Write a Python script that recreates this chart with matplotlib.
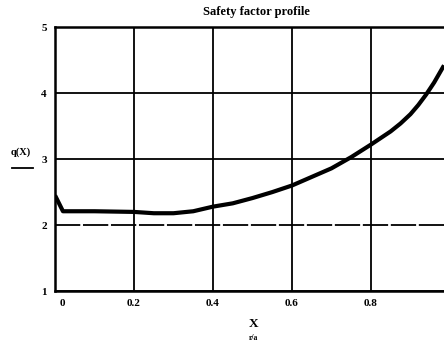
import matplotlib
matplotlib.use("Agg")
import matplotlib.pyplot as plt
from matplotlib.lines import Line2D
from matplotlib.transforms import ScaledTranslation

# safety factor profile
r_a = [0.0, 0.02, 0.1, 0.2, 0.25, 0.3, 0.35, 0.4, 0.45, 0.5, 0.55,
       0.6, 0.65, 0.7, 0.75, 0.8, 0.85, 0.875, 0.9, 0.92, 0.94, 0.96, 0.985]
q_vals = [2.45, 2.21, 2.21, 2.2, 2.18, 2.18, 2.21, 2.28, 2.33, 2.41, 2.5,
          2.6, 2.73, 2.86, 3.03, 3.22, 3.42, 3.54, 3.68, 3.82, 3.98, 4.16, 4.42]
x_ticks = [0, 0.2, 0.4, 0.6, 0.8]
x_tick_labels = ["0", "0.2", "0.4", "0.6", "0.8"]
y_ticks = [1, 2, 3, 4, 5]

plt.rcParams['font.family'] = ['Liberation Serif', 'DejaVu Serif']

fig = plt.figure(figsize=(4.44, 3.47), dpi=100)
ax = fig.add_axes([0.124, 0.161, 0.876, 0.761])

ax.plot(r_a, q_vals, color='black', lw=3.0, solid_capstyle='butt',
        solid_joinstyle='round')

ax.set_xlim(0, 0.985)
ax.set_ylim(1, 5)
ax.set_xticks(x_ticks)
ax.set_xticklabels(x_tick_labels)
ax.set_yticks(y_ticks)
ax.tick_params(length=0, labelsize=8, pad=6)
for lab in ax.get_xticklabels() + ax.get_yticklabels():
    lab.set_fontweight('bold')
# the "0" label sits a little to the right in the scan
lab0 = ax.get_xticklabels()[0]
lab0.set_transform(lab0.get_transform() + ScaledTranslation(0.07, 0, fig.dpi_scale_trans))

ax.grid(True, color='black', lw=1.3)
# the q=2 grid line looks slightly broken in the scan
ax.get_ygridlines()[1].set_dashes([14, 1.5])

ax.spines['right'].set_visible(False)
for s in ['left', 'bottom', 'top']:
    ax.spines[s].set_linewidth(1.8)

fig.text(0.577, 0.965, "Safety factor profile", ha='center', va='center',
         fontsize=9, fontweight='bold')
fig.text(0.572, 0.067, "X", ha='center', va='center', fontsize=9.5, fontweight='bold')
fig.text(0.572, 0.027, "r/a", ha='center', va='center', fontsize=5.5, fontweight='bold')
fig.text(0.047, 0.56, "q(X)", ha='center', va='center', fontsize=7.5, fontweight='bold')
fig.add_artist(Line2D([0.027, 0.075], [0.517, 0.517], color='black', lw=1.3,
                      transform=fig.transFigure))

fig.savefig("out.png", dpi=100)
